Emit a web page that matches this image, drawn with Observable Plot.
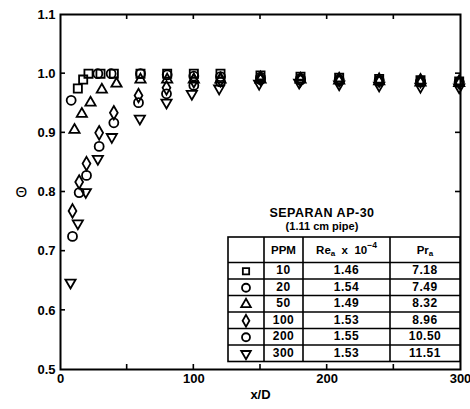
<!DOCTYPE html>
<html><head><meta charset="utf-8">
<script src="https://cdn.jsdelivr.net/npm/d3@7"></script>
<script src="https://cdn.jsdelivr.net/npm/@observablehq/plot@0.6"></script>
<style>body{margin:0;background:#fff;} svg{display:block}</style>
</head><body><div id="chart"></div>
<script>
// ---- data ----
const ppm = ["10","20","50","100","200","300"];
const reA = ["1.46","1.54","1.49","1.53","1.55","1.53"];
const prA = ["7.18","7.49","8.32","8.96","10.50","11.51"];

const x10 = [13, 17, 21, 30, 40, 60, 80, 100, 120, 150, 180, 209, 239, 270, 299];
const y10 = [0.975, 0.99, 1.0, 1.0, 1.0, 1.0, 1.0, 1.0, 1.0, 0.997, 0.995, 0.993, 0.991, 0.989, 0.987];

const x20 = [8, 28, 38, 60, 80, 100, 120, 150, 180, 209, 239, 270, 299];
const y20 = [0.955, 1.0, 1.0, 1.0, 0.998, 0.996, 0.995, 0.994, 0.992, 0.99, 0.989, 0.987, 0.986];

const x50 = [10.5, 16, 22.5, 31, 42, 60, 80, 100, 120, 150, 180, 209, 239, 270, 299];
const y50 = [0.905, 0.932, 0.951, 0.973, 0.983, 0.99, 0.99, 0.99, 0.99, 0.99, 0.99, 0.988, 0.987, 0.985, 0.984];

const x100 = [9, 14, 19.5, 29, 40, 58.5, 79.5, 100, 120, 150, 180, 209, 239, 270, 299];
const y100 = [0.768, 0.817, 0.848, 0.9, 0.934, 0.963, 0.976, 0.988, 0.99, 0.992, 0.99, 0.99, 0.989, 0.988, 0.986];

const x200 = [9, 14, 19.5, 29, 40, 58.5, 79.5, 100, 120, 150, 180, 209, 239, 270, 299];
const y200 = [0.725, 0.799, 0.828, 0.877, 0.917, 0.951, 0.966, 0.98, 0.986, 0.99, 0.989, 0.988, 0.987, 0.986, 0.985];

const x300 = [7.5, 13, 19, 28, 38.5, 59.5, 79.5, 98.5, 119, 149, 179, 209, 239, 270, 299];
const y300 = [0.647, 0.747, 0.8, 0.856, 0.893, 0.924, 0.951, 0.966, 0.975, 0.983, 0.985, 0.982, 0.98, 0.978, 0.977];

const xTickLabels = [0, 100, 200, 300];
const xTicks = [50, 100, 150, 200, 250];
const yTicks = [0.6, 0.7, 0.8, 0.9, 1.0];
const yTickLabels = [0.5, 0.6, 0.7, 0.8, 0.9, 1.0, 1.1];

// ---- symbols ----
const sqrt3 = Math.sqrt(3);
const triangleDown = {
  draw(context, size) {
    const y = -Math.sqrt(size / (sqrt3 * 3));
    context.moveTo(0, -y * 2);
    context.lineTo(-sqrt3 * y, y);
    context.lineTo(sqrt3 * y, y);
    context.closePath();
  }
};
const symbolList = [d3.symbolSquare, d3.symbolCircle, d3.symbolTriangle, d3.symbolDiamond, d3.symbolCircle, triangleDown];
const seriesX = [x10, x20, x50, x100, x200, x300];
const seriesY = [y10, y20, y50, y100, y200, y300];
const sizes = [4.6, 4.5, 3.8, 4.1, 4.5, 3.8];

const font = "'Liberation Sans', Arial, sans-serif";

const dotMarks = seriesX.map((xs, i) =>
  Plot.dot(xs.map((x, j) => ({x, y: seriesY[i][j]})), {
    x: "x", y: "y", symbol: () => symbolList[i], r: sizes[i],
    fill: "white", fillOpacity: 0, stroke: "black", strokeWidth: 1.8
  })
);

const chart = Plot.plot({
  width: 470, height: 409,
  marginLeft: 60, marginRight: 10, marginTop: 14, marginBottom: 40,
  style: {fontFamily: font, fontSize: "12px", fontWeight: "bold", color: "black", background: "white"},
  x: {domain: [0, 300]},
  y: {domain: [0.5, 1.1]},
  symbol: {type: "identity"},
  marks: [
    Plot.frame({stroke: "black", strokeWidth: 2}),
    Plot.axisX({anchor: "bottom", ticks: xTickLabels, tickSize: 0, tickPadding: 4, fontSize: 13, label: null}),
    Plot.axisY({anchor: "left", ticks: yTickLabels, tickSize: 0, tickPadding: 5, fontSize: 13, tickFormat: d3.format(".1f"), label: null}),
    Plot.text(["x/D"], {frameAnchor: "bottom", dy: 29, fontSize: 13, fontWeight: "bold"}),
    Plot.text(["Θ"], {frameAnchor: "left", dx: -45, fontSize: 15, fontWeight: "normal"}),
    ...dotMarks
  ]
});
document.getElementById("chart").appendChild(chart);

// ---- inward ticks, positioned through the chart's own scales ----
const svgSel = d3.select(chart);
const sx = chart.scale("x"), sy = chart.scale("y");
const [fx0, fx1] = sx.range, [fy0, fy1] = sy.range; // fy0 bottom, fy1 top
const tk = svgSel.append("g").attr("stroke", "black").attr("stroke-width", 1.6);
xTicks.forEach(v => {
  const px = sx.apply(v);
  tk.append("line").attr("x1", px).attr("x2", px).attr("y1", fy0).attr("y2", fy0 - 5);
  tk.append("line").attr("x1", px).attr("x2", px).attr("y1", fy1).attr("y2", fy1 + 5);
});
yTicks.forEach(v => {
  const py = sy.apply(v);
  tk.append("line").attr("x1", fx0).attr("x2", fx0 + 5).attr("y1", py).attr("y2", py);
  tk.append("line").attr("x1", fx1).attr("x2", fx1 - 5).attr("y1", py).attr("y2", py);
});

// ---- legend table (drawn as an overlay) ----
const g = svgSel.append("g").attr("font-family", font).attr("fill", "black");
const cols = [228, 264, 303, 390, 460];
const tTop = 237, headBottom = 262.5, rowH = 16.5;
const tBottom = headBottom + rowH * ppm.length;

g.append("text").attr("x", 322).attr("y", 214).attr("text-anchor", "middle")
  .attr("dominant-baseline", "middle").attr("font-size", 12.5).attr("font-weight", "bold")
  .attr("letter-spacing", 0.5).text("SEPARAN AP-30");
g.append("text").attr("x", 322).attr("y", 227).attr("text-anchor", "middle")
  .attr("dominant-baseline", "middle").attr("font-size", 11).attr("font-weight", "bold")
  .text("(1.11 cm pipe)");

g.append("rect").attr("x", cols[0]).attr("y", tTop).attr("width", cols[4] - cols[0]).attr("height", tBottom - tTop)
  .attr("fill", "white").attr("stroke", "black").attr("stroke-width", 1.6);
cols.slice(1, 4).forEach(c => g.append("line").attr("x1", c).attr("x2", c).attr("y1", tTop).attr("y2", tBottom)
  .attr("stroke", "black").attr("stroke-width", 1.6));
for (let i = 0; i < ppm.length; i++) {
  const yy = headBottom + i * rowH;
  g.append("line").attr("x1", cols[0]).attr("x2", cols[4]).attr("y1", yy).attr("y2", yy)
    .attr("stroke", "black").attr("stroke-width", 1.4);
}
const mid = (a, b) => (a + b) / 2;
const headY = mid(tTop, headBottom) + 1;
g.append("text").attr("x", mid(cols[1], cols[2])).attr("y", headY).attr("text-anchor", "middle")
  .attr("dominant-baseline", "middle").attr("font-size", 11.5).attr("font-weight", "bold").text("PPM");
const re = g.append("text").attr("x", mid(cols[2], cols[3])).attr("y", headY).attr("text-anchor", "middle")
  .attr("dominant-baseline", "middle").attr("font-size", 11.5).attr("font-weight", "bold");
re.append("tspan").text("Re");
re.append("tspan").attr("font-size", 8).attr("dy", 3).text("a");
re.append("tspan").attr("dy", -3).text("  x  10");
re.append("tspan").attr("font-size", 8.5).attr("dy", -5).text("−4");
const pr = g.append("text").attr("x", mid(cols[3], cols[4])).attr("y", headY).attr("text-anchor", "middle")
  .attr("dominant-baseline", "middle").attr("font-size", 11.5).attr("font-weight", "bold");
pr.append("tspan").text("Pr");
pr.append("tspan").attr("font-size", 8).attr("dy", 3).text("a");

ppm.forEach((p, i) => {
  const cy = headBottom + i * rowH + rowH / 2 + 0.5;
  g.append("path").attr("transform", `translate(${mid(cols[0], cols[1])},${cy})`)
    .attr("d", d3.symbol(symbolList[i], [40, 50, 40, 40, 50, 40][i])())
    .attr("fill", "none").attr("stroke", "black").attr("stroke-width", 1.8);
  [[p, 1], [reA[i], 2], [prA[i], 3]].forEach(([t, c]) => {
    g.append("text").attr("x", mid(cols[c], cols[c + 1])).attr("y", cy)
      .attr("text-anchor", "middle").attr("dominant-baseline", "middle")
      .attr("font-size", 12).attr("font-weight", "bold").attr("letter-spacing", 0.5).text(t);
  });
});
</script>
</body></html>
